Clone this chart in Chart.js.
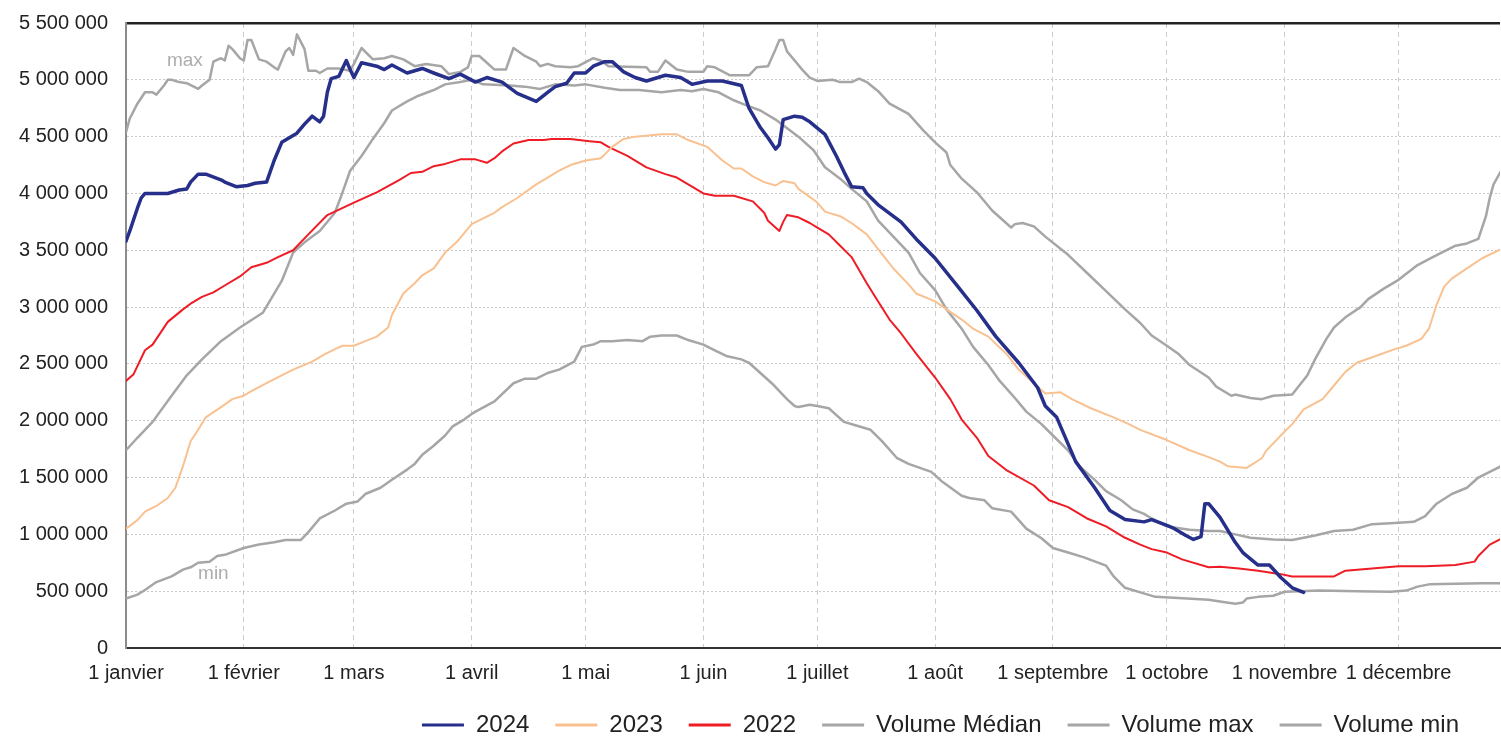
<!DOCTYPE html>
<html>
<head>
<meta charset="utf-8">
<script src="https://cdn.jsdelivr.net/npm/chart.js@4/dist/chart.umd.min.js"></script>
<style>
  html, body { margin: 0; padding: 0; background: #fff; }
  #wrap { width: 1501px; height: 739px; }
</style>
</head>
<body>
<div id="wrap"><canvas id="chart" width="1501" height="739"></canvas></div>
<script>
// month ticks (day of year, leap year)
const monthDays = [0, 31, 60, 91, 121, 152, 182, 213, 244, 274, 305, 335];
const monthLabels = ["1 janvier", "1 février", "1 mars", "1 avril", "1 mai", "1 juin",
  "1 juillet", "1 août", "1 septembre", "1 octobre", "1 novembre", "1 décembre"];

// values in millions
const days2024 = [0,1,3,4,5,11,14,16,17,19,21,25,26,29,32,34,37,39,41,43,45,47,49,51,52,53,54,56,58,59,60,62,66,68,70,74,78,81,85,88,92,95,99,103,108,111,113,116,118,121,123,126,128,131,134,137,142,146,149,153,157,162,164,167,169,171,172,173,176,178,180,184,187,189,191,194,195,198,204,208,213,219,224,229,235,240,242,245,250,255,259,263,268,270,274,276,279,281,283,284,285,288,292,294,298,301,304,307,310];
const vol2024 = [3.58,3.67,3.87,3.96,4.0,4.0,4.03,4.04,4.10,4.17,4.17,4.12,4.10,4.06,4.07,4.09,4.10,4.29,4.45,4.49,4.53,4.61,4.68,4.63,4.68,4.89,5.01,5.03,5.17,5.09,5.02,5.15,5.12,5.09,5.13,5.06,5.10,5.06,5.01,5.05,4.98,5.02,4.98,4.88,4.81,4.89,4.94,4.97,5.06,5.06,5.12,5.16,5.16,5.07,5.02,4.99,5.04,5.02,4.96,4.99,4.99,4.95,4.75,4.58,4.49,4.39,4.43,4.65,4.68,4.67,4.63,4.52,4.33,4.19,4.06,4.05,4.0,3.90,3.75,3.60,3.43,3.18,2.97,2.74,2.51,2.29,2.13,2.03,1.64,1.41,1.21,1.13,1.11,1.13,1.08,1.05,0.99,0.955,0.98,1.27,1.27,1.15,0.93,0.84,0.73,0.73,0.62,0.53,0.49];

const days2023 = [0,3,5,8,11,13,15,17,19,21,25,28,31,33,37,41,44,49,52,55,57,60,63,66,69,70,73,76,78,81,84,87,91,94,97,99,103,108,111,114,117,121,125,128,131,134,141,145,148,153,157,160,162,165,168,171,173,176,177,180,182,184,188,191,195,198,202,206,208,213,216,220,223,227,232,235,239,242,246,249,254,260,264,267,274,280,285,288,290,295,299,300,304,307,310,315,318,321,324,329,334,337,341,343,345,347,349,353,357,362];
const vol2023 = [1.05,1.125,1.2,1.25,1.32,1.41,1.60,1.82,1.92,2.03,2.12,2.19,2.22,2.26,2.33,2.40,2.45,2.52,2.58,2.63,2.66,2.66,2.70,2.74,2.82,2.93,3.12,3.21,3.28,3.34,3.48,3.57,3.73,3.78,3.83,3.88,3.96,4.08,4.14,4.20,4.25,4.29,4.31,4.41,4.48,4.50,4.52,4.52,4.47,4.41,4.29,4.22,4.22,4.15,4.10,4.07,4.11,4.09,4.04,3.97,3.92,3.84,3.80,3.74,3.64,3.51,3.34,3.20,3.12,3.05,2.98,2.89,2.81,2.74,2.58,2.45,2.33,2.24,2.25,2.19,2.11,2.03,1.97,1.92,1.83,1.74,1.68,1.64,1.60,1.585,1.67,1.73,1.87,1.97,2.10,2.19,2.31,2.43,2.51,2.57,2.63,2.66,2.72,2.81,3.02,3.18,3.25,3.34,3.43,3.51];

const days2022 = [0,2,5,7,11,15,17,20,23,26,30,33,37,40,44,48,53,60,66,72,75,78,81,84,88,92,95,97,99,102,106,110,112,117,122,125,127,132,137,142,145,149,152,155,160,165,168,169,172,173,174,177,180,182,185,188,191,195,198,201,204,208,213,217,220,224,227,232,239,243,248,253,258,263,267,270,274,278,285,288,293,298,304,307,318,321,328,335,342,347,350,355,356,359,362];
const vol2022 = [2.35,2.41,2.62,2.67,2.87,2.98,3.03,3.09,3.13,3.19,3.27,3.35,3.39,3.44,3.50,3.64,3.81,3.92,4.01,4.12,4.18,4.19,4.24,4.26,4.30,4.30,4.27,4.31,4.37,4.44,4.47,4.47,4.48,4.48,4.46,4.45,4.41,4.33,4.23,4.17,4.14,4.06,4.0,3.98,3.98,3.93,3.83,3.76,3.67,3.75,3.81,3.79,3.74,3.70,3.64,3.54,3.44,3.21,3.05,2.89,2.77,2.59,2.38,2.19,2.01,1.85,1.69,1.56,1.43,1.30,1.24,1.14,1.07,0.97,0.91,0.87,0.84,0.78,0.71,0.715,0.70,0.68,0.65,0.63,0.63,0.68,0.70,0.72,0.72,0.725,0.73,0.76,0.81,0.91,0.96];

const daysMedian = [0,3,7,12,16,20,25,30,36,41,44,47,51,55,57,59,62,65,68,70,74,77,81,84,88,91,94,101,105,109,113,118,121,126,130,135,141,146,149,152,156,160,163,167,171,175,177,181,184,188,191,195,198,202,206,209,213,216,220,223,227,230,234,237,241,244,248,251,255,258,262,265,268,270,274,280,285,288,292,296,302,307,313,318,323,328,334,339,342,345,349,353,356,359,362];
const volMedian = [1.74,1.85,1.99,2.22,2.40,2.54,2.70,2.82,2.95,3.23,3.48,3.57,3.67,3.83,4.01,4.20,4.33,4.48,4.62,4.73,4.81,4.86,4.91,4.96,4.98,5.0,4.96,4.95,4.94,4.92,4.96,4.95,4.96,4.93,4.91,4.91,4.89,4.91,4.90,4.92,4.89,4.82,4.78,4.73,4.65,4.55,4.50,4.38,4.23,4.13,4.04,3.93,3.76,3.62,3.48,3.30,3.15,2.98,2.81,2.65,2.49,2.35,2.20,2.08,1.97,1.87,1.74,1.60,1.48,1.38,1.30,1.22,1.18,1.14,1.07,1.04,1.03,1.03,1.0,0.97,0.955,0.95,0.99,1.03,1.04,1.09,1.10,1.11,1.16,1.27,1.355,1.41,1.50,1.55,1.60];

const daysMax = [0,1,3,5,7,8,10,11,12,14,16,19,20,22,23,25,26,27,28,30,31,32,33,35,37,39,40,42,43,44,45,47,48,50,51,53,56,59,60,62,65,68,70,73,76,79,83,85,88,90,91,93,95,97,100,102,105,108,109,111,113,117,119,123,125,127,137,138,140,142,145,148,152,153,155,159,164,166,169,171,172,173,174,177,178,180,182,186,188,191,193,195,198,201,206,210,213,216,217,220,224,228,233,234,236,239,242,248,253,258,263,267,270,274,277,280,285,287,291,292,296,299,302,307,311,313,316,318,321,325,327,331,335,340,344,350,353,356,358,359,360,362];
const volMax = [4.54,4.66,4.79,4.89,4.89,4.87,4.95,5.0,5.0,4.98,4.97,4.92,4.95,5.0,5.16,5.19,5.17,5.30,5.27,5.19,5.17,5.35,5.35,5.18,5.16,5.11,5.09,5.25,5.28,5.22,5.40,5.27,5.08,5.08,5.06,5.10,5.10,5.08,5.14,5.28,5.18,5.19,5.21,5.18,5.12,5.14,5.12,5.05,5.07,5.11,5.21,5.21,5.15,5.09,5.09,5.28,5.21,5.16,5.12,5.14,5.12,5.11,5.12,5.19,5.17,5.12,5.11,5.07,5.07,5.17,5.09,5.07,5.07,5.12,5.11,5.04,5.04,5.11,5.12,5.27,5.35,5.35,5.25,5.13,5.09,5.02,4.99,5.0,4.98,4.98,5.01,4.98,4.90,4.79,4.70,4.55,4.45,4.36,4.25,4.13,4.01,3.85,3.70,3.73,3.74,3.71,3.62,3.46,3.30,3.14,2.98,2.86,2.75,2.66,2.59,2.49,2.38,2.30,2.22,2.23,2.20,2.19,2.22,2.23,2.40,2.54,2.72,2.82,2.91,3.0,3.07,3.16,3.24,3.37,3.44,3.54,3.56,3.60,3.80,3.96,4.08,4.20];

const daysMin = [0,3,5,8,12,15,17,19,22,24,26,31,35,39,42,46,48,51,55,58,61,63,67,70,74,76,78,81,84,86,89,91,92,97,102,105,108,111,114,118,120,123,125,128,132,136,138,141,145,148,152,155,158,162,164,167,170,174,176,177,180,182,185,189,192,196,199,203,206,212,215,220,222,226,228,233,237,241,244,248,252,258,260,263,269,271,277,285,288,292,294,295,298,302,305,309,314,324,333,337,340,343,350,357,362];
const volMin = [0.435,0.47,0.51,0.58,0.63,0.69,0.71,0.75,0.76,0.81,0.82,0.88,0.91,0.93,0.95,0.95,1.02,1.14,1.21,1.27,1.29,1.355,1.41,1.48,1.57,1.62,1.70,1.78,1.87,1.95,2.01,2.06,2.08,2.17,2.33,2.37,2.37,2.42,2.45,2.52,2.65,2.67,2.70,2.70,2.71,2.70,2.74,2.75,2.75,2.71,2.67,2.62,2.57,2.54,2.51,2.42,2.33,2.19,2.13,2.12,2.14,2.13,2.11,1.99,1.96,1.92,1.82,1.67,1.62,1.55,1.46,1.34,1.32,1.30,1.23,1.20,1.05,0.966,0.88,0.84,0.80,0.725,0.63,0.53,0.47,0.45,0.44,0.425,0.41,0.39,0.40,0.435,0.45,0.46,0.495,0.50,0.505,0.50,0.495,0.505,0.54,0.56,0.565,0.57,0.57];

// small grey annotations "max" / "min"
const noteTexts = ["max", "min"];
const noteDays = [15.5, 23];
const noteValues = [5.17, 0.65];

const FONT = "'Liberation Sans', Arial, sans-serif";
const toXY = (days, vals) => days.map((d, i) => ({ x: d, y: vals[i] }));

function fmtVolume(v) {
  const n = Math.round(v * 1000000);
  return n.toString().replace(/\B(?=(\d{3})+(?!\d))/g, " ");
}

function line(label, days, vals, color, width) {
  return {
    label,
    data: toXY(days, vals),
    borderColor: color,
    backgroundColor: color,
    borderWidth: width,
    pointRadius: 0,
    pointHoverRadius: 0,
    tension: 0,
    borderJoinStyle: "round",
    borderCapStyle: "round",
  };
}

const notesPlugin = {
  id: "notes",
  afterDatasetsDraw(chart) {
    const { ctx, scales } = chart;
    ctx.save();
    ctx.font = "19px " + FONT;
    ctx.fillStyle = "#adadad";
    ctx.textAlign = "center";
    ctx.textBaseline = "middle";
    noteTexts.forEach((t, i) => {
      ctx.fillText(t, scales.x.getPixelForValue(noteDays[i]), scales.y.getPixelForValue(noteValues[i]));
    });
    ctx.restore();
  }
};

// nudge legend so it ends under the plot like the original
const legendShift = {
  id: "legendShift",
  afterLayout(chart) {
    if (chart.legend) {
      chart.legend.right = chart.chartArea.right - 15;
    }
  }
};

const canvas = document.getElementById("chart");
new Chart(canvas, {
  type: "line",
  data: {
    datasets: [
      line("2024", days2024, vol2024, "#262f8a", 3.5),
      line("2023", days2023, vol2023, "#f9c190", 2),
      line("2022", days2022, vol2022, "#ee1c25", 2),
      line("Volume Médian", daysMedian, volMedian, "#a6a6a6", 2.5),
      line("Volume max", daysMax, volMax, "#a6a6a6", 2.5),
      line("Volume min", daysMin, volMin, "#a6a6a6", 2.5),
    ]
  },
  options: {
    responsive: false,
    animation: false,
    events: [],
    layout: { padding: { top: 23, right: 1, left: 0, bottom: -8 } },
    plugins: {
      tooltip: { enabled: false },
      legend: {
        position: "bottom",
        align: "end",
        labels: {
          boxWidth: 42,
          boxHeight: 3,
          padding: 26,
          color: "#222",
          font: { family: FONT, size: 24 },
          generateLabels(chart) {
            return Chart.defaults.plugins.legend.labels.generateLabels(chart)
              .map(l => ({ ...l, lineWidth: 0 }));
          }
        }
      }
    },
    scales: {
      x: {
        type: "linear",
        min: 0,
        max: 361.7,
        afterBuildTicks(scale) {
          scale.ticks = monthDays.map(v => ({ value: v }));
        },
        afterFit(scale) { scale.height = 39; },
        ticks: {
          autoSkip: false,
          maxRotation: 0,
          padding: 13,
          color: "#222",
          font: { family: FONT, size: 20 },
          callback: (v, i) => monthLabels[i]
        },
        grid: {
          drawTicks: false,
          color: ctx => ctx.index === 0 ? "rgba(0,0,0,0)" : "#cdcdcd",
          lineWidth: 1
        },
        border: { display: true, color: "#333", width: 2, dash: [5, 4] }
      },
      y: {
        min: 0,
        max: 5.5,
        afterFit(scale) { scale.width = 126; },
        ticks: {
          stepSize: 0.5,
          padding: 18,
          color: "#222",
          // small lineHeight keeps the top label from pushing the plot down
          font: { family: FONT, size: 20, lineHeight: 0.2 },
          callback: v => fmtVolume(v)
        },
        grid: {
          drawTicks: false,
          color: ctx => ctx.tick && ctx.tick.value === 5.5 ? "#222" : (ctx.tick && ctx.tick.value === 0 ? "rgba(0,0,0,0)" : "#c9c9c9"),
          lineWidth: ctx => ctx.tick && ctx.tick.value === 5.5 ? 2.5 : 1
        },
        border: {
          display: true,
          color: "#8c8c8c",
          width: 2,
          dash: ctx => ctx.tick && ctx.tick.value === 5.5 ? [] : [2, 2]
        }
      }
    }
  },
  plugins: [notesPlugin, legendShift]
});
</script>
</body>
</html>
